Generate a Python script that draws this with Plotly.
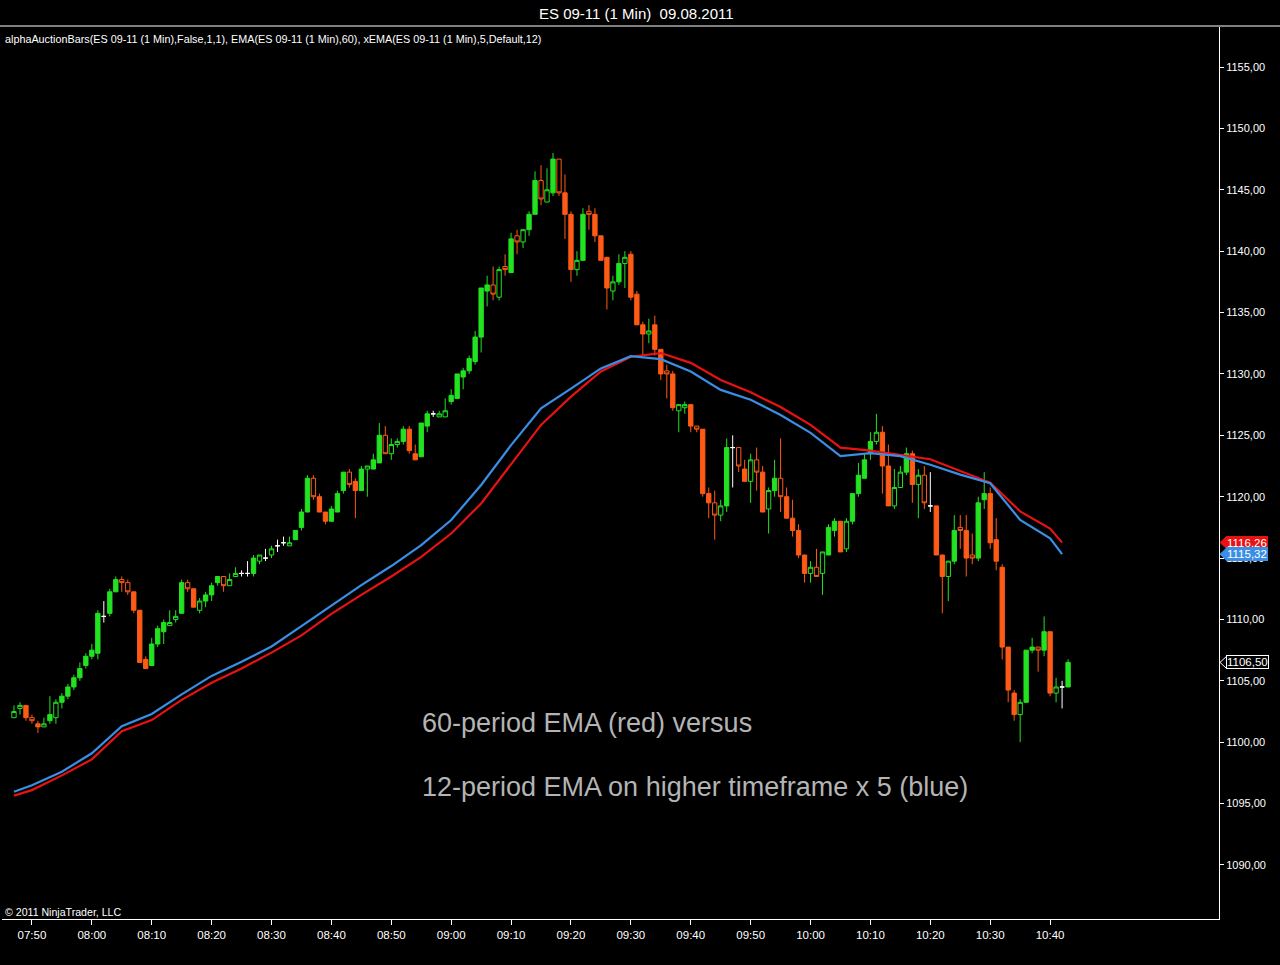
import pandas as pd
import plotly.graph_objects as go

DAY = "2011-08-09"
FIRST_BAR = "07:47"
TITLE = "ES 09-11 (1 Min) \u00a009.08.2011"
STUDY_LABEL = ("alphaAuctionBars(ES 09-11 (1 Min),False,1,1), EMA(ES 09-11 (1 Min),60), "
               "xEMA(ES 09-11 (1 Min),5,Default,12)")
COPYRIGHT = "© 2011 NinjaTrader, LLC"
NOTE_1 = "60-period EMA (red) versus"
NOTE_2 = "12-period EMA on higher timeframe x 5 (blue)"

# 1-minute bars, 07:47 .. 10:43
opens = [
    1102.0, 1102.75, 1103.0, 1102.0, 1101.5, 1101.25, 1101.75, 1102.0, 1103.25, 1103.75,
    1104.5, 1105.25, 1106.25, 1107.0, 1107.25, 1110.25, 1110.5, 1112.25, 1113.25, 1113.0,
    1112.25, 1110.75, 1106.75, 1106.25, 1108.0, 1109.0, 1109.5, 1110.0, 1110.5, 1113.0,
    1112.5, 1110.75, 1111.5, 1112.0, 1113.0, 1113.5, 1112.75, 1113.5, 1113.75, 1113.75,
    1113.75, 1114.75, 1115.0, 1115.25, 1116.0, 1116.25, 1116.0, 1116.5, 1117.5, 1118.75,
    1121.5, 1120.0, 1118.75, 1118.0, 1118.75, 1120.5, 1122.0, 1121.25, 1120.5, 1122.25,
    1122.25, 1122.75, 1125.0, 1123.5, 1124.25, 1124.5, 1125.5, 1123.5, 1123.25, 1125.75,
    1126.75, 1126.5, 1126.5, 1127.75, 1128.0, 1129.75, 1130.25, 1131.0, 1133.0, 1136.75,
    1137.25, 1136.25, 1138.75, 1138.25, 1141.25, 1140.75, 1141.75, 1143.0, 1145.75, 1144.0,
    1144.75, 1147.5, 1144.75, 1143.0, 1138.5, 1139.25, 1143.25, 1143.0, 1141.25, 1139.5,
    1136.75, 1137.5, 1139.0, 1139.75, 1136.5, 1134.0, 1133.25, 1134.0, 1132.0, 1130.25,
    1130.0, 1127.0, 1127.25, 1127.5, 1125.75, 1125.5, 1120.25, 1119.5, 1118.5, 1119.25,
    1124.0, 1124.0, 1122.25, 1121.25, 1123.0, 1122.0, 1119.0, 1120.5, 1121.5, 1120.0,
    1118.25, 1117.25, 1115.25, 1113.75, 1114.25, 1113.75, 1115.25, 1117.25, 1118.0, 1115.75,
    1118.0, 1120.25, 1121.5, 1123.5, 1124.5, 1125.25, 1122.5, 1119.25, 1120.75, 1122.0,
    1123.5, 1121.0, 1121.75, 1119.25, 1119.25, 1115.25, 1113.5, 1114.75, 1117.5, 1117.25,
    1115.25, 1115.0, 1119.75, 1120.25, 1116.5, 1114.25, 1107.75, 1104.0, 1102.25, 1103.25,
    1107.5, 1107.75, 1107.5, 1109.0, 1104.0, 1104.5, 1104.5,
]
highs = [
    1103.0, 1103.25, 1103.0, 1102.25, 1101.75, 1102.0, 1103.75, 1103.5, 1104.0, 1104.75,
    1105.5, 1106.5, 1107.25, 1108.0, 1110.75, 1111.5, 1112.5, 1113.5, 1113.5, 1113.25,
    1112.25, 1110.75, 1107.0, 1108.5, 1109.5, 1110.0, 1110.75, 1110.75, 1113.25, 1113.25,
    1112.5, 1111.75, 1112.25, 1113.0, 1113.5, 1113.5, 1113.75, 1114.25, 1114.0, 1114.75,
    1115.25, 1115.25, 1115.75, 1116.0, 1116.5, 1116.75, 1116.75, 1117.25, 1119.0, 1121.75,
    1121.75, 1120.25, 1118.75, 1119.25, 1120.5, 1122.0, 1122.25, 1121.5, 1122.5, 1122.5,
    1123.5, 1126.0, 1125.75, 1124.75, 1124.75, 1125.75, 1125.75, 1124.25, 1126.0, 1127.0,
    1127.0, 1127.0, 1128.0, 1128.75, 1130.0, 1130.5, 1131.5, 1133.5, 1137.0, 1138.0,
    1138.75, 1138.75, 1139.75, 1141.5, 1141.75, 1141.75, 1143.25, 1146.5, 1147.0, 1146.75,
    1148.0, 1147.5, 1146.25, 1143.25, 1140.0, 1143.5, 1143.75, 1143.5, 1141.25, 1139.5,
    1138.0, 1139.75, 1140.0, 1140.0, 1136.75, 1134.25, 1134.5, 1134.75, 1132.0, 1130.75,
    1130.25, 1127.5, 1127.75, 1127.5, 1125.75, 1125.5, 1120.75, 1120.5, 1119.75, 1124.75,
    1125.0, 1124.0, 1123.0, 1123.5, 1124.0, 1122.5, 1120.75, 1123.0, 1124.75, 1120.75,
    1119.75, 1117.75, 1115.25, 1114.75, 1115.75, 1115.5, 1117.75, 1118.25, 1118.0, 1118.25,
    1120.25, 1122.75, 1123.5, 1125.25, 1126.75, 1125.75, 1124.25, 1122.25, 1122.5, 1124.0,
    1123.75, 1122.25, 1122.5, 1122.0, 1119.25, 1115.25, 1114.75, 1118.5, 1118.5, 1118.5,
    1117.0, 1120.0, 1122.0, 1120.75, 1118.25, 1114.5, 1107.75, 1104.25, 1103.5, 1107.5,
    1108.5, 1107.75, 1110.25, 1109.0, 1105.25, 1105.0, 1106.75,
]
lows = [
    1102.0, 1102.25, 1101.75, 1101.5, 1100.75, 1101.25, 1101.5, 1101.5, 1102.75, 1103.5,
    1104.25, 1105.0, 1106.0, 1106.75, 1106.75, 1109.75, 1110.25, 1112.25, 1112.25, 1112.0,
    1110.5, 1106.5, 1106.0, 1106.25, 1107.75, 1108.0, 1109.5, 1109.75, 1110.5, 1112.25,
    1111.0, 1110.5, 1111.0, 1111.5, 1112.75, 1112.25, 1112.75, 1113.5, 1113.5, 1113.5,
    1113.5, 1114.5, 1114.75, 1115.0, 1115.5, 1116.0, 1116.0, 1116.5, 1117.25, 1118.75,
    1119.75, 1118.75, 1117.75, 1118.0, 1118.75, 1120.25, 1120.75, 1118.25, 1120.5, 1120.0,
    1122.25, 1122.75, 1123.5, 1123.0, 1124.0, 1124.25, 1123.5, 1123.0, 1123.25, 1125.25,
    1126.5, 1126.5, 1126.5, 1127.5, 1128.0, 1128.75, 1130.0, 1130.75, 1131.75, 1135.5,
    1136.0, 1136.0, 1138.0, 1138.25, 1139.75, 1140.25, 1141.25, 1143.0, 1143.75, 1144.0,
    1144.5, 1144.5, 1141.0, 1137.5, 1138.0, 1139.25, 1141.75, 1140.75, 1139.25, 1135.25,
    1136.0, 1137.25, 1137.0, 1136.0, 1134.0, 1131.5, 1132.5, 1131.5, 1129.5, 1128.0,
    1127.0, 1125.25, 1126.75, 1125.25, 1125.25, 1120.0, 1118.25, 1116.5, 1118.0, 1118.75,
    1120.75, 1122.0, 1121.25, 1119.5, 1120.5, 1118.75, 1117.0, 1120.0, 1118.75, 1118.25,
    1116.75, 1115.0, 1113.0, 1113.0, 1113.5, 1112.0, 1115.25, 1116.75, 1115.5, 1115.5,
    1117.75, 1120.0, 1121.5, 1123.0, 1124.25, 1120.25, 1119.25, 1119.0, 1120.75, 1121.75,
    1119.5, 1118.25, 1119.0, 1118.75, 1115.25, 1110.5, 1111.5, 1114.5, 1115.75, 1113.5,
    1114.5, 1114.75, 1119.0, 1115.75, 1114.0, 1106.75, 1103.25, 1101.75, 1100.0, 1103.25,
    1107.25, 1105.75, 1107.0, 1103.75, 1103.25, 1102.75, 1104.5,
]
closes = [
    1102.5, 1103.0, 1102.0, 1101.75, 1101.25, 1101.5, 1102.25, 1103.25, 1103.75, 1104.5,
    1105.25, 1106.0, 1107.0, 1107.5, 1110.5, 1110.25, 1112.25, 1113.25, 1113.0, 1112.25,
    1110.75, 1106.5, 1106.0, 1108.0, 1109.25, 1109.75, 1109.75, 1110.25, 1113.0, 1112.5,
    1111.0, 1111.5, 1112.0, 1112.75, 1113.5, 1112.75, 1113.25, 1113.75, 1113.75, 1113.75,
    1115.0, 1115.25, 1115.0, 1115.75, 1116.0, 1116.25, 1116.25, 1117.25, 1118.75, 1121.5,
    1120.0, 1118.75, 1118.0, 1119.0, 1120.25, 1122.0, 1121.0, 1120.5, 1122.25, 1122.5,
    1123.0, 1125.0, 1123.5, 1124.25, 1124.5, 1125.5, 1123.75, 1123.0, 1126.0, 1126.75,
    1126.75, 1126.75, 1127.0, 1128.25, 1130.0, 1130.25, 1131.25, 1133.0, 1137.0, 1137.25,
    1136.5, 1138.5, 1138.5, 1141.0, 1140.75, 1141.75, 1143.0, 1145.75, 1144.25, 1145.0,
    1147.5, 1144.75, 1143.0, 1138.5, 1139.25, 1143.0, 1143.0, 1141.25, 1139.25, 1137.0,
    1137.5, 1139.0, 1139.5, 1136.25, 1134.0, 1133.25, 1133.5, 1132.0, 1130.0, 1130.0,
    1127.25, 1127.5, 1127.5, 1125.75, 1125.5, 1120.25, 1119.5, 1118.5, 1119.25, 1124.0,
    1124.0, 1122.5, 1121.25, 1123.0, 1122.0, 1118.75, 1120.5, 1121.5, 1120.0, 1118.25,
    1117.25, 1115.25, 1113.75, 1114.25, 1113.5, 1115.5, 1117.5, 1118.0, 1115.5, 1118.0,
    1120.25, 1121.75, 1123.0, 1124.5, 1125.25, 1122.5, 1119.25, 1120.75, 1122.0, 1123.5,
    1121.0, 1121.75, 1119.5, 1119.25, 1115.25, 1113.5, 1114.75, 1117.25, 1117.25, 1115.0,
    1115.0, 1119.5, 1120.25, 1116.25, 1114.75, 1107.75, 1104.25, 1102.25, 1103.25, 1107.5,
    1107.75, 1107.5, 1109.0, 1104.0, 1104.5, 1104.5, 1106.5,
]

# indicator lines, read every 5 minutes
ema_times = [
    "07:47", "07:50", "07:55", "08:00", "08:05", "08:10", "08:15", "08:20", "08:25", "08:30",
    "08:35", "08:40", "08:45", "08:50", "08:55", "09:00", "09:05", "09:10", "09:15", "09:20",
    "09:25", "09:30", "09:35", "09:40", "09:45", "09:50", "09:55", "10:00", "10:05", "10:10",
    "10:15", "10:20", "10:25", "10:30", "10:35", "10:40", "10:42",
]
ema60 = [
    1095.65, 1096.1, 1097.3, 1098.6, 1100.9, 1101.8, 1103.45, 1104.85, 1106.0, 1107.3,
    1108.7, 1110.45, 1112.0, 1113.5, 1115.1, 1117.0, 1119.45, 1122.7, 1125.85, 1128.15,
    1130.2, 1131.4, 1131.7, 1130.9, 1129.5, 1128.5, 1127.3, 1125.85, 1124.0, 1123.75,
    1123.4, 1123.05, 1122.1, 1121.15, 1118.8, 1117.4, 1116.26,
]
xema12 = [
    1095.97, 1096.5, 1097.6, 1099.1, 1101.3, 1102.3, 1103.9, 1105.4, 1106.55, 1107.8,
    1109.45, 1111.1, 1112.8, 1114.35, 1116.05, 1118.1, 1120.95, 1124.2, 1127.2, 1128.8,
    1130.45, 1131.45, 1131.2, 1130.2, 1128.7, 1127.9, 1126.65, 1125.2, 1123.3, 1123.55,
    1123.3, 1122.6, 1121.8, 1121.1, 1118.1, 1116.6, 1115.32,
]

tick_labels = ["07:50", "08:00", "08:10", "08:20", "08:30", "08:40", "08:50", "09:00", "09:10",
               "09:20", "09:30", "09:40", "09:50", "10:00", "10:10", "10:20", "10:30", "10:40"]

GREEN = "#22e222"
ORANGE = "#ff5a16"
RED = "#e81212"
BLUE = "#3a8ee6"
BG = "black"
FONT = "Liberation Sans"

# plot area in pixels (1280 x 965 page)
L, R, T, B = 2, 61, 27, 46
PW, PH = 1280 - L - R, 965 - T - B


def px_x(px):
    return (px - L) / PW


def px_y(py):
    return (965 - B - py) / PH


def fmt(v):
    return f"{v:.2f}".replace(".", ",")


bars = pd.DataFrame({"open": opens, "high": highs, "low": lows, "close": closes})
bars["time"] = pd.date_range(f"{DAY} {FIRST_BAR}", periods=len(bars), freq="min")
prev_high = bars["high"].shift(1)
prev_low = bars["low"].shift(1)
doji = bars["close"] == bars["open"]
breakout = (bars["close"] > prev_high) | (bars["close"] < prev_low)
solid = breakout & ~doji
hollow = ~breakout & ~doji

ema_x = pd.to_datetime([f"{DAY} {t}" for t in ema_times])
tick_x = pd.to_datetime([f"{DAY} {t}" for t in tick_labels])

fig = go.Figure()

fig.add_trace(go.Scatter(x=ema_x, y=ema60, mode="lines", line=dict(color=RED, width=2.2),
                         name="EMA(60)"))
fig.add_trace(go.Scatter(x=ema_x, y=xema12, mode="lines", line=dict(color=BLUE, width=2.2),
                         name="xEMA(5,12)"))


def candles(mask, up_fill, dn_fill, up_col=GREEN, dn_col=ORANGE, name=""):
    d = bars[mask]
    return go.Candlestick(
        x=d["time"], open=d["open"], high=d["high"], low=d["low"], close=d["close"],
        increasing=dict(line=dict(color=up_col, width=1), fillcolor=up_fill),
        decreasing=dict(line=dict(color=dn_col, width=1), fillcolor=dn_fill),
        whiskerwidth=0, name=name,
    )


fig.add_trace(candles(hollow, BG, BG, name="hollow"))
fig.add_trace(candles(solid, GREEN, ORANGE, name="solid"))
fig.add_trace(candles(doji, "white", "white", "white", "white", name="doji"))

annotations = [
    dict(text=TITLE, x=px_x(636), y=px_y(13), font=dict(size=15, color="white")),
    dict(text=STUDY_LABEL, x=px_x(3), y=px_y(39), xanchor="left",
         font=dict(size=10.8, color="white")),
    dict(text=COPYRIGHT, x=px_x(3), y=px_y(912), xanchor="left",
         font=dict(size=10.6, color="white")),
    dict(text=NOTE_1, x=px_x(420), y=px_y(723), xanchor="left",
         font=dict(size=27, color="#b4b4b4")),
    dict(text=NOTE_2, x=px_x(420), y=px_y(787), xanchor="left",
         font=dict(size=27, color="#b4b4b4")),
]
for a in annotations:
    a.update(xref="paper", yref="paper", showarrow=False,
             yanchor="middle", font_family=FONT)

# price flags on the right axis
shapes = [
    dict(type="line", xref="paper", yref="paper", x0=px_x(0), x1=px_x(1280),
         y0=px_y(26), y1=px_y(26), line=dict(color="white", width=1)),
]
dy = 6.5 * 65 / 798
flags = [(ema60[-1], RED, RED), (xema12[-1], BLUE, BLUE), (closes[-1], BG, "white")]
for val, bg, border in flags:
    annotations.append(dict(
        text=fmt(val), x=px_x(1226), y=val, xref="paper", yref="y", xanchor="left",
        yanchor="middle", showarrow=False, bgcolor=bg, bordercolor=border, borderwidth=1,
        borderpad=0, font=dict(family=FONT, size=11.5, color="white"),
    ))
    shapes.append(dict(
        type="path", xref="paper", yref="y",
        path=f"M {px_x(1220)},{val} L {px_x(1227)},{val + dy} L {px_x(1227)},{val - dy} Z",
        fillcolor=bg, line=dict(color=border, width=1),
    ))

fig.update_layout(
    width=1280, height=965,
    margin=dict(l=L, r=R, t=T, b=B),
    paper_bgcolor=BG, plot_bgcolor=BG,
    showlegend=False,
    separators=",.",
    boxgap=0.15, boxgroupgap=0.15,
    font=dict(family=FONT, color="white", size=11),
    annotations=annotations,
    shapes=shapes,
    xaxis=dict(
        type="date",
        range=[f"{DAY} 07:45", f"{DAY} 11:08:12"],
        rangeslider=dict(visible=False),
        tickvals=tick_x, ticktext=tick_labels,
        showgrid=False, zeroline=False,
        showline=True, linecolor="white", linewidth=1,
        ticks="outside", ticklen=5, tickcolor="white",
        tickfont=dict(size=11.5, color="white"),
    ),
    yaxis=dict(
        side="right",
        range=[1085.6, 1158.26],
        dtick=5, tickformat=".2f",
        showgrid=False, zeroline=False,
        showline=True, linecolor="white", linewidth=1,
        ticks="outside", ticklen=4, tickcolor="white",
        tickfont=dict(size=11, color="white"),
    ),
)

fig.write_html("out.html", config={"displayModeBar": False},
               post_script="document.body.style.margin='0px';")
